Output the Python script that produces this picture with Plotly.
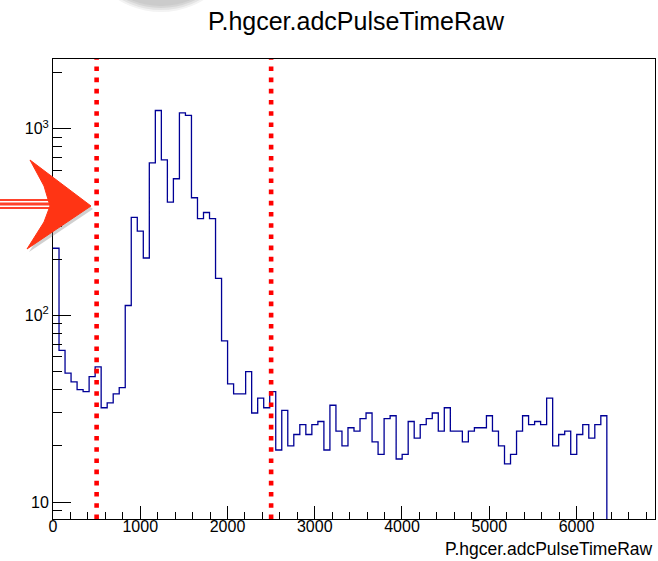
import numpy as np
import plotly.graph_objects as go

# ---------------- data ----------------
title_text = "P.hgcer.adcPulseTimeRaw"
x_title = "P.hgcer.adcPulseTimeRaw"
x_min, x_max = 0, 6900
n_bins = 100
counts = [229, 65, 49, 44, 40, 39, 47, 53, 32, 34,
          38, 41, 113, 335, 283, 203, 657, 1253, 682, 405,
          540, 1218, 1179, 427, 330, 356, 330, 158, 73, 43,
          38, 38, 50, 30, 36, 32, 39, 19, 31, 20,
          23, 26, 23, 26, 27, 19, 33, 24, 20, 25,
          24, 28, 30, 21, 18, 28, 29, 17, 18, 27,
          22, 26, 28, 30, 24, 32, 24, 24, 21, 24,
          25, 25, 29, 24, 20, 16, 18, 24, 29, 26,
          27, 26, 36, 20, 23, 24, 18, 23, 26, 22,
          26, 29, 0, 0, 0, 0, 0, 0, 0, 0]
x_tick_vals = [0, 1000, 2000, 3000, 4000, 5000, 6000]
x_tick_text = ["0", "1000", "2000", "3000", "4000", "5000", "6000"]
y_tick_vals = [10, 100, 1000]
y_tick_text = ["10", "10<sup>2</sup>", "10<sup>3</sup>"]
cut_values = [500, 2500]
y_log_range = [0.909, 3.374]

# ---------------- geometry ----------------
W, H = 658, 561
ML, MR, MT, MB = 53, 3, 59, 42
PW, PH = W - ML - MR, H - MT - MB


def px(xp):
    return (xp - ML) / PW


def py(yp):
    return (H - MB - yp) / PH


edges = np.linspace(x_min, x_max, n_bins + 1)
last = max(i for i, c in enumerate(counts) if c > 0)
floor_val = 10 ** (y_log_range[0] - 1)
step_x = list(edges[:last + 2])
step_y = list(counts[:last + 1]) + [floor_val]

fig = go.Figure()
fig.add_trace(go.Scatter(x=step_x, y=step_y, mode="lines", line_shape="hv",
                         line=dict(color="#000096", width=1.3), hoverinfo="skip"))

shapes = []
# grey blurred disc at top
for r, col in [(82, "#f3f3f3"), (80, "#e4e4e4"), (78, "#d5d5d5"), (76, "#cbcbcb")]:
    cx, cy = 161, -70
    shapes.append(dict(type="circle", xref="paper", yref="paper",
                       x0=px(cx - r), x1=px(cx + r), y0=py(cy + r), y1=py(cy - r),
                       fillcolor=col, line=dict(width=0), layer="above"))

# cut lines
for cv in cut_values:
    shapes.append(dict(type="line", xref="x", yref="paper", x0=cv, x1=cv, y0=0, y1=1,
                       line=dict(color="#ff0000", width=4.6, dash="4.6px,6.6px"), layer="above"))

# hand drawn arrow
head = [(30, 160), (91, 206), (27, 249), (44, 222), (50, 206), (44, 186)]


def path_of(pts, dx=0, dy=0):
    s = "M %f,%f " % (px(pts[0][0] + dx), py(pts[0][1] + dy))
    for a, b in pts[1:]:
        s += "L %f,%f " % (px(a + dx), py(b + dy))
    return s + "Z"


shapes.append(dict(type="path", xref="paper", yref="paper", path=path_of(head, 2, 3),
                   fillcolor="rgba(120,120,120,0.35)", line=dict(width=0), layer="above"))
for yy, w in [(200, 2), (204, 3), (208, 2)]:
    shapes.append(dict(type="line", xref="paper", yref="paper", x0=px(0), x1=px(52),
                       y0=py(yy), y1=py(yy), line=dict(color="rgba(255,45,20,0.9)", width=w),
                       layer="above"))
shapes.append(dict(type="path", xref="paper", yref="paper", path=path_of(head),
                   fillcolor="#ff3414", line=dict(color="#ff3414", width=1), layer="above"))

minor_x = [v for v in range(200, x_max, 200) if v % 1000 != 0]
minor_y = [m * 10 ** d for d in range(0, 4) for m in range(2, 10)
           if y_log_range[0] < np.log10(m * 10 ** d) < y_log_range[1]]

font_family = "Liberation Sans, Arial, Helvetica, sans-serif"
fig.update_layout(
    width=W, height=H, margin=dict(l=ML, r=MR, t=MT, b=MB, pad=0),
    plot_bgcolor="white", paper_bgcolor="white", showlegend=False,
    font=dict(family=font_family, color="black", size=16),
    shapes=shapes,
    xaxis=dict(range=[x_min, x_max], tickmode="array", tickvals=x_tick_vals, ticktext=x_tick_text,
               ticks="inside", ticklen=13, tickwidth=1, tickcolor="black",
               showline=True, linecolor="black", linewidth=1, mirror=True,
               showgrid=False, zeroline=False, tickfont=dict(size=16),
               ticklabelstandoff=-7,
               minor=dict(tickmode="array", tickvals=minor_x, ticks="inside", ticklen=7,
                          tickcolor="black", tickwidth=1, showgrid=False)),
    yaxis=dict(type="log", range=y_log_range, tickmode="array", tickvals=y_tick_vals,
               ticktext=y_tick_text, ticks="inside", ticklen=18, tickwidth=1, tickcolor="black",
               showline=True, linecolor="black", linewidth=1, mirror=True,
               showgrid=False, zeroline=False, tickfont=dict(size=16),
               minor=dict(tickmode="array", tickvals=minor_y, ticks="inside", ticklen=9,
                          tickcolor="black", tickwidth=1, showgrid=False)),
    annotations=[
        dict(text=title_text, xref="paper", yref="paper", x=px(356), y=py(21),
             xanchor="center", yanchor="middle", showarrow=False, font=dict(size=25)),
        dict(text=x_title, xref="paper", yref="paper", x=1, y=py(549),
             xanchor="right", yanchor="middle", showarrow=False, font=dict(size=17.5)),
    ],
)

fig.write_html("out.html")
